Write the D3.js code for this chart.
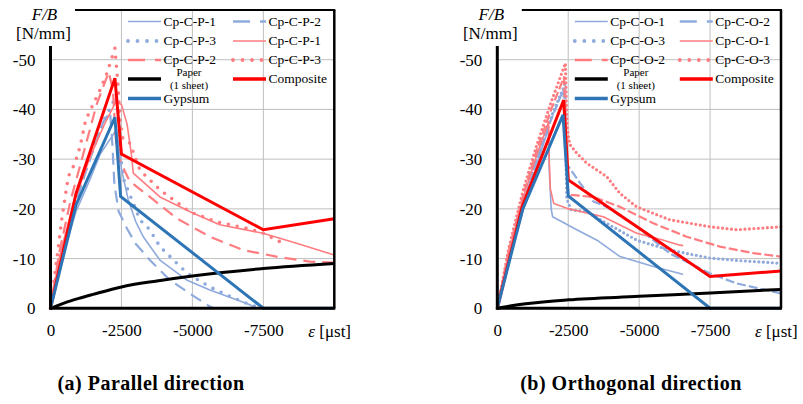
<!DOCTYPE html>
<html>
<head>
<meta charset="utf-8">
<script src="https://cdn.jsdelivr.net/npm/d3@7"></script>
<style>
  body { margin: 0; background: #fff; }
  svg text { font-family: "Liberation Serif", "DejaVu Serif", "Times New Roman", serif; fill: #000; }
</style>
</head>
<body>
<div id="chart"></div>
<script>
// --- DATA (strain eps [ust], force per width F/B [N/mm]) ---
const xTicks = [0, -2500, -5000, -7500];
const yTicks = [0, -10, -20, -30, -40, -50];

// (a) Parallel direction
const parB1 = [[0,0],[-400,-10],[-900,-19.5],[-1400,-26],[-1750,-31],[-2100,-34],[-2330,-36],[-2420,-32],[-2500,-28],[-2740,-21.8],[-3000,-17.5],[-3268,-14.4],[-3855,-9.7],[-4795,-5.7],[-5616,-3.7],[-6555,-1.7],[-7024,-0.7],[-7250,0]];
const parB2 = [[0,0],[-400,-11],[-900,-21.5],[-1390,-30],[-1860,-37.5],[-2100,-39.5],[-2180,-33],[-2250,-25],[-2400,-19.5],[-2700,-16],[-3000,-13],[-3500,-9.7],[-4200,-5.7],[-4900,-3],[-5600,-0.4],[-5750,0]];
const parB3 = [[0,0],[-400,-11.5],[-900,-22],[-1400,-30.5],[-1900,-38],[-2300,-42.5],[-2420,-37],[-2500,-29],[-2600,-25.5],[-2800,-22.8],[-3150,-17.8],[-3500,-15.8],[-3855,-12.4],[-4267,-10.1],[-4560,-8.4],[-4912,-6.7],[-5616,-4.3],[-6203,-2.7],[-6908,-1],[-7260,-0.3]];
const parR1 = [[0,0],[-300,-10],[-800,-21],[-1400,-30.5],[-1900,-37],[-2300,-41.5],[-2500,-41],[-2700,-37],[-2850,-31],[-2916,-27.2],[-3855,-22.4],[-5030,-19.1],[-5967,-16.8],[-7493,-15.1],[-8669,-13.1],[-10000,-10.7]];
const parR2 = [[0,0],[-300,-11],[-700,-21.5],[-1200,-32],[-1627,-41],[-2050,-47.5],[-2200,-44],[-2280,-36],[-2350,-31],[-2500,-29],[-2800,-25.5],[-3503,-22.4],[-4443,-18.1],[-5616,-14.4],[-6789,-11.7],[-7963,-10.4],[-9137,-9.4],[-10000,-9.2]];
const parR3 = [[0,0],[-218,-9.7],[-394,-17.8],[-627,-26.5],[-863,-29.2],[-1039,-32.5],[-1243,-37.9],[-1743,-43.9],[-1990,-47.3],[-2270,-52.3],[-2377,-45],[-2450,-38],[-2550,-34],[-2800,-33.2],[-3151,-27.8],[-3855,-23.8],[-4912,-19.4],[-5851,-17.4],[-6908,-16.1],[-7493,-15.1],[-8081,-13.4]];
const parPaper = [[0,0],[-500,-1.1],[-1000,-2],[-1500,-2.8],[-2500,-4.3],[-3750,-5.5],[-5000,-6.5],[-7500,-8],[-10000,-9]];
const parGypsum = [[0,0],[-900,-20.8],[-2270,-38.4],[-2470,-22.5],[-7500,0],[-10000,0]];
const parComposite = [[0,0],[-900,-23.1],[-2270,-46.3],[-2500,-31],[-7500,-15.8],[-10000,-18]];
const parNames = ["Cp-C-P-1", "Cp-C-P-2", "Cp-C-P-3", "Cp-C-P-1", "Cp-C-P-2", "Cp-C-P-3"];

// (b) Orthogonal direction
const ortB1 = [[0,0],[-400,-9.5],[-900,-19.5],[-1400,-29],[-1800,-36],[-1830,-28],[-1900,-20],[-1950,-18.4],[-2800,-15.8],[-3515,-13.7],[-4325,-10.4],[-5500,-8.4],[-6440,-7],[-6550,-6.8]];
const ortB2 = [[0,0],[-400,-10],[-900,-20.5],[-1400,-30],[-1900,-38],[-2330,-44],[-2380,-35],[-2450,-29],[-2916,-25.2],[-3384,-21.5],[-3855,-20.4],[-4914,-16.4],[-6088,-11],[-7498,-7],[-8439,-5],[-10000,-3]];
const ortB3 = [[0,0],[-400,-10.5],[-900,-21],[-1400,-30.5],[-1900,-38.5],[-2380,-45],[-2420,-30],[-2450,-22],[-2600,-19.8],[-3150,-19.4],[-3855,-17.1],[-4914,-13.7],[-6088,-11.7],[-7498,-10.1],[-8500,-9.6],[-10000,-9.05]];
const ortR1 = [[0,0],[-400,-11],[-900,-22],[-1400,-31],[-1810,-37.5],[-1830,-30],[-1870,-24],[-1990,-21.1],[-2457,-20.1],[-3737,-18.4],[-4914,-15.1],[-5800,-13.8],[-6440,-12.7],[-6550,-12.6]];
const ortR2 = [[0,0],[-400,-11.5],[-900,-22.5],[-1400,-32],[-1900,-40],[-2350,-46.5],[-2420,-35],[-2480,-23.5],[-2600,-22.8],[-3384,-22.4],[-4325,-20.4],[-5500,-17.1],[-6676,-14.4],[-7850,-12.4],[-9025,-11.1],[-10000,-10.4]];
const ortR3 = [[0,0],[-400,-12],[-900,-23.5],[-1400,-33],[-1900,-41.5],[-2400,-49.3],[-2430,-42],[-2470,-36],[-2550,-33],[-2800,-31.2],[-3150,-29.2],[-3855,-26.5],[-4325,-23.1],[-4914,-20.4],[-6088,-17.8],[-7498,-16.4],[-8439,-15.8],[-10000,-16.4]];
const ortPaper = [[0,0],[-500,-0.5],[-1000,-0.9],[-2500,-1.7],[-5000,-2.4],[-7500,-3.1],[-10000,-3.8]];
const ortGypsum = [[0,0],[-900,-20],[-2316,-38.9],[-2503,-22.6],[-7500,0],[-10000,0]];
const ortComposite = [[0,0],[-880,-20.5],[-2340,-41.9],[-2503,-25.8],[-7498,-6.4],[-10000,-7.5]];
const ortNames = ["Cp-C-O-1", "Cp-C-O-2", "Cp-C-O-3", "Cp-C-O-1", "Cp-C-O-2", "Cp-C-O-3"];

// --- STYLES ---
const serif = '"Liberation Serif", "DejaVu Serif", serif';
const lightBlue = "#8FAADC";
const lightRed = "#FF7C80";
const gypsumBlue = "#2E75B6";
const compRed = "#FF0000";

const svg = d3.select("#chart").append("svg")
    .attr("width", 803).attr("height", 404)
    .attr("font-family", serif);

const fmt = d => d === 0 ? "0" : "-" + Math.abs(d);

function drawPanel(left, right, exp, paper, gypsum, composite, names, caption, capX, noisy) {
    const top = 10, bottom = 308.3;
    const x = d3.scaleLinear().domain([0, -10000]).range([left, right]);
    const y = d3.scaleLinear().domain([0, -60]).range([bottom, top]);
    const g = svg.append("g");

    // gridlines
    g.append("g").selectAll("line").data(yTicks.slice(1)).enter().append("line")
        .attr("x1", left).attr("x2", right)
        .attr("y1", d => y(d)).attr("y2", d => y(d))
        .attr("stroke", "#BFBFBF").attr("stroke-width", 1);
    g.append("g").selectAll("line").data(xTicks.slice(1)).enter().append("line")
        .attr("x1", d => x(d)).attr("x2", d => x(d))
        .attr("y1", top).attr("y2", bottom)
        .attr("stroke", "#BFBFBF").attr("stroke-width", 1);

    // line styles for experimental curves
    const styles = [
        { color: lightBlue, w: 1.6, dash: null },
        { color: lightBlue, w: 2.2, dash: noisy ? "9,3" : "12,7" },
        { color: lightBlue, w: noisy ? 3.2 : 3.6, dash: noisy ? "0,4.5" : "0,9", cap: "round" },
        { color: lightRed, w: 1.6, dash: null },
        { color: lightRed, w: 2.2, dash: noisy ? "9,3" : "12,7" },
        { color: lightRed, w: noisy ? 3.2 : 3.6, dash: noisy ? "0,4.5" : "0,9", cap: "round" }
    ];

    const line = d3.line().x(d => x(d[0])).y(d => y(d[1]));
    const smooth = d3.line().x(d => x(d[0])).y(d => y(d[1])).curve(d3.curveMonotoneX);

    exp.forEach((s, i) => {
        const st = styles[i];
        g.append("path").attr("d", line(s))
            .attr("fill", "none").attr("stroke", st.color)
            .attr("stroke-width", st.w)
            .attr("stroke-dasharray", st.dash)
            .attr("stroke-linecap", st.cap || "butt")
            .attr("stroke-linejoin", "round");
    });

    g.append("path").attr("d", smooth(paper))
        .attr("fill", "none").attr("stroke", "#000").attr("stroke-width", 3);
    g.append("path").attr("d", line(composite))
        .attr("fill", "none").attr("stroke", compRed).attr("stroke-width", 3);
    g.append("path").attr("d", line(gypsum))
        .attr("fill", "none").attr("stroke", gypsumBlue).attr("stroke-width", 3);

    // frame
    g.append("line").attr("x1", left + 24.5).attr("x2", right + 1).attr("y1", top).attr("y2", top)
        .attr("stroke", "#000").attr("stroke-width", 2);
    g.append("line").attr("x1", right).attr("x2", right).attr("y1", top).attr("y2", bottom)
        .attr("stroke", "#000").attr("stroke-width", 2.5);
    g.append("line").attr("x1", left).attr("x2", left).attr("y1", 46).attr("y2", bottom + 1.5)
        .attr("stroke", "#000").attr("stroke-width", 3);
    g.append("line").attr("x1", left).attr("x2", right + 1).attr("y1", bottom).attr("y2", bottom)
        .attr("stroke", "#000").attr("stroke-width", 3);

    // axes
    const yAxis = g.append("g").attr("transform", `translate(${left},0)`)
        .call(d3.axisLeft(y).tickValues(yTicks).tickFormat(fmt).tickSize(0).tickPadding(15))
        .attr("font-family", serif).attr("font-size", 17);
    yAxis.select(".domain").remove();

    const xAxis = g.append("g").attr("transform", `translate(0,${bottom})`)
        .call(d3.axisBottom(x).tickValues(xTicks).tickFormat(fmt).tickSize(0).tickPadding(16))
        .attr("font-family", serif).attr("font-size", 17);
    xAxis.select(".domain").remove();

    const eps = g.append("text").attr("x", right - 26).attr("y", 336.7).attr("font-size", 17);
    eps.append("tspan").attr("font-style", "italic").text("ε");
    eps.append("tspan").text(" [μst]");

    // axis title
    g.append("text").attr("x", left - 6).attr("y", 20).attr("text-anchor", "middle")
        .attr("font-size", 17).attr("font-style", "italic").text("F/B");
    g.append("text").attr("x", left - 7).attr("y", 39).attr("text-anchor", "middle")
        .attr("font-size", 17).text("[N/mm]");

    // legend
    const rowsY = [21.5, 41, 60, 79, 98.5];
    const colX = [left + 77.5, left + 182.5];
    const lineLen = 33;
    const entries = names.map((n, i) => ({ name: n, st: styles[i], col: i % 2, row: Math.floor(i / 2) }));
    entries.push({ name: "Paper", st: { color: "#000", w: 3.5 }, col: 0, row: 3, paper: true });
    entries.push({ name: "Composite", st: { color: compRed, w: 3.5 }, col: 1, row: 3 });
    entries.push({ name: "Gypsum", st: { color: gypsumBlue, w: 3.5 }, col: 0, row: 4 });

    const leg = g.append("g");
    entries.forEach(e => {
        const lx = colX[e.col], ly = rowsY[e.row];
        const dash = e.st.dash ? (e.st.cap ? "0,9.5" : "17,10") : null;
        leg.append("line").attr("x1", lx).attr("x2", lx + lineLen).attr("y1", ly).attr("y2", ly)
            .attr("stroke", e.st.color)
            .attr("stroke-width", e.st.cap ? 3.8 : (e.st.dash ? 2.4 : e.st.w))
            .attr("stroke-dasharray", dash)
            .attr("stroke-linecap", e.st.cap || "butt");
        if (e.paper) {
            leg.append("text").attr("x", lx + 61).attr("y", ly - 2.8).attr("text-anchor", "middle")
                .attr("font-size", 11).attr("fill", "#595959").text("Paper");
            leg.append("text").attr("x", lx + 61).attr("y", ly + 9.5).attr("text-anchor", "middle")
                .attr("font-size", 11).attr("fill", "#595959").text("(1 sheet)");
        } else {
            leg.append("text").attr("x", lx + lineLen + 2.5).attr("y", ly).attr("dy", "0.33em")
                .attr("font-size", 13.5).text(e.name);
        }
    });

    // caption
    svg.append("text").attr("x", capX).attr("y", 390)
        .attr("text-anchor", "middle").attr("font-size", 20).attr("font-weight", "bold")
        .attr("letter-spacing", 0.5)
        .text(caption);
}

drawPanel(50.5, 334.3, [parB1, parB2, parB3, parR1, parR2, parR3],
    parPaper, parGypsum, parComposite, parNames, "(a) Parallel direction", 151, false);
drawPanel(497.3, 781, [ortB1, ortB2, ortB3, ortR1, ortR2, ortR3],
    ortPaper, ortGypsum, ortComposite, ortNames, "(b) Orthogonal direction", 631, true);
</script>
</body>
</html>
